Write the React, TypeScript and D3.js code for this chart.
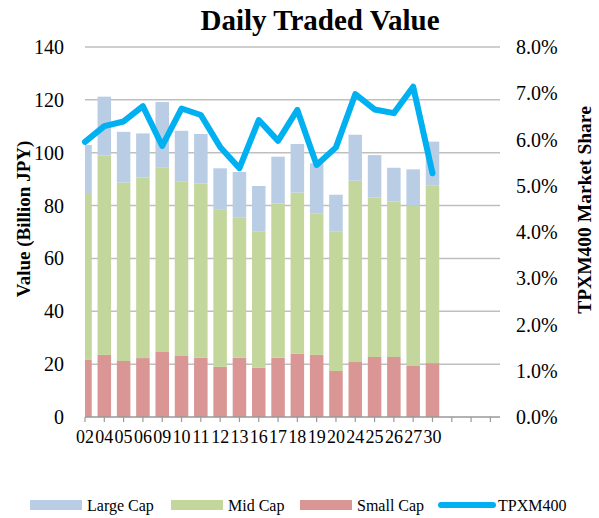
import * as d3 from 'd3';

const dates = ['02', '04', '05', '06', '09', '10', '11', '12', '13', '16', '17', '18', '19', '20', '24', '25', '26', '27', '30'];
const blankSlots = 3;
const smallCap = [21.6, 23.5, 21.2, 22.3, 24.6, 23.1, 22.4, 19.0, 22.4, 18.7, 22.4, 24.0, 23.5, 17.4, 20.8, 22.7, 22.7, 19.3, 20.4];
const midCap = [62.8, 75.4, 67.5, 68.3, 69.7, 66.1, 66.0, 59.4, 53.0, 51.4, 58.4, 60.9, 53.6, 52.7, 68.6, 60.4, 58.8, 60.8, 67.1];
const largeCap = [18.5, 22.3, 19.2, 16.7, 24.9, 19.1, 18.7, 15.7, 17.3, 17.3, 17.7, 18.4, 18.9, 14.0, 17.4, 16.0, 12.8, 13.6, 16.7];
const tpxmShare = [5.95, 6.29, 6.39, 6.72, 5.86, 6.67, 6.53, 5.84, 5.38, 6.42, 5.97, 6.64, 5.45, 5.83, 6.98, 6.65, 6.57, 7.14, 5.27];
const leftTicks = [0, 20, 40, 60, 80, 100, 120, 140];
const rightTicks = [0, 1, 2, 3, 4, 5, 6, 7, 8];

const W = 599;
const H = 518;
const margin = { top: 47, right: 99, bottom: 101, left: 85 };
const FONT = '"Liberation Serif", "DejaVu Serif", serif';

const seriesColors = { large: '#b9cde5', mid: '#c3d69b', small: '#d99694', line: '#00b0f0' };

export default function App() {
  const innerW = W - margin.left - margin.right;
  const innerH = H - margin.top - margin.bottom;

  const slots = d3.range(dates.length + blankSlots);
  // Excel "on tick marks": categories sit on the ticks, last tick half a step short of the edge
  const x = d3.scalePoint<number>().domain(slots).range([0, innerW - 9.6]);
  const step = x.step();
  const barW = step * 0.7;
  const y = d3.scaleLinear().domain([0, 140]).range([innerH, 0]);
  const y2 = d3.scaleLinear().domain([0, 8]).range([innerH, 0]);

  const rows = dates.map((d, i) => ({ i, small: smallCap[i], mid: midCap[i], large: largeCap[i] }));
  const stacked = d3.stack<any>().keys(['small', 'mid', 'large'])(rows);
  const fills = [seriesColors.small, seriesColors.mid, seriesColors.large];

  const line = d3
    .line<number>()
    .x((_, i) => x(i) ?? 0)
    .y((v) => y2(v));

  const legend = [
    { label: 'Large Cap', color: seriesColors.large, x: 30, kind: 'rect' },
    { label: 'Mid Cap', color: seriesColors.mid, x: 171, kind: 'rect' },
    { label: 'Small Cap', color: seriesColors.small, x: 300, kind: 'rect' },
    { label: 'TPXM400', color: seriesColors.line, x: 441, kind: 'line' },
  ];
  const swW = 52;

  return (
    <svg width={W} height={H} style={{ position: 'absolute', left: 0, top: 0, background: '#fff' }} fontFamily={FONT}>
      <defs>
        <clipPath id="plot-clip">
          <rect x={0} y={-10} width={innerW} height={innerH + 10} />
        </clipPath>
      </defs>
      <text x={320} y={30} textAnchor="middle" fontSize={29} fontWeight="bold" fill="#000">
        Daily Traded Value
      </text>
      <g transform={`translate(${margin.left},${margin.top})`}>
        {leftTicks.filter((t) => t > 0).map((t) => (
          <line key={t} x1={0} x2={innerW} y1={y(t)} y2={y(t)} stroke="#bfbfbf" strokeWidth={1.5} />
        ))}

        <g clipPath="url(#plot-clip)">
          {stacked.map((layer, li) =>
            layer.map((seg, i) => (
              <rect
                key={`${li}-${i}`}
                x={(x(i) ?? 0) - barW / 2}
                y={y(seg[1])}
                width={barW}
                height={y(seg[0]) - y(seg[1])}
                fill={fills[li]}
              />
            ))
          )}
        </g>

        {/* x axis */}
        <line x1={0} x2={innerW} y1={innerH} y2={innerH} stroke="#999" strokeWidth={1.5} />
        {slots.map((s) => (
          <line key={`t${s}`} x1={x(s)} x2={x(s)} y1={innerH} y2={innerH + 5} stroke="#999" strokeWidth={1.2} />
        ))}
        {dates.map((d, i) => (
          <text key={`xl${d}`} x={x(i)} y={innerH + 26} textAnchor="middle" fontSize={18} fill="#000">
            {d}
          </text>
        ))}

        <path d={line(tpxmShare) ?? undefined} fill="none" stroke={seriesColors.line} strokeWidth={6} strokeLinejoin="round" strokeLinecap="round" />

        {leftTicks.map((t) => (
          <text key={`yl${t}`} x={-21} y={y(t)} dy="0.35em" textAnchor="end" fontSize={20} fill="#000">
            {t}
          </text>
        ))}
        {rightTicks.map((t) => (
          <text key={`yr${t}`} x={innerW + 16} y={y2(t)} dy="0.35em" textAnchor="start" fontSize={20} fill="#000">
            {`${t.toFixed(1)}%`}
          </text>
        ))}
      </g>

      <text transform="translate(30,219) rotate(-90)" textAnchor="middle" fontSize={19} fontWeight="bold" fill="#000">
        Value (Billion JPY)
      </text>
      <text transform="translate(591,210) rotate(-90)" textAnchor="middle" fontSize={19.5} fontWeight="bold" fill="#000">
        TPXM400 Market Share
      </text>

      {legend.map((l) => (
        <g key={l.label}>
          {l.kind === 'rect' ? (
            <rect x={l.x} y={500} width={swW} height={10} fill={l.color} />
          ) : (
            <line x1={l.x} x2={l.x + swW} y1={505} y2={505} stroke={l.color} strokeWidth={6} strokeLinecap="round" />
          )}
          <text x={l.x + swW + 5} y={511} fontSize={16} fill="#000">
            {l.label}
          </text>
        </g>
      ))}
    </svg>
  );
}
